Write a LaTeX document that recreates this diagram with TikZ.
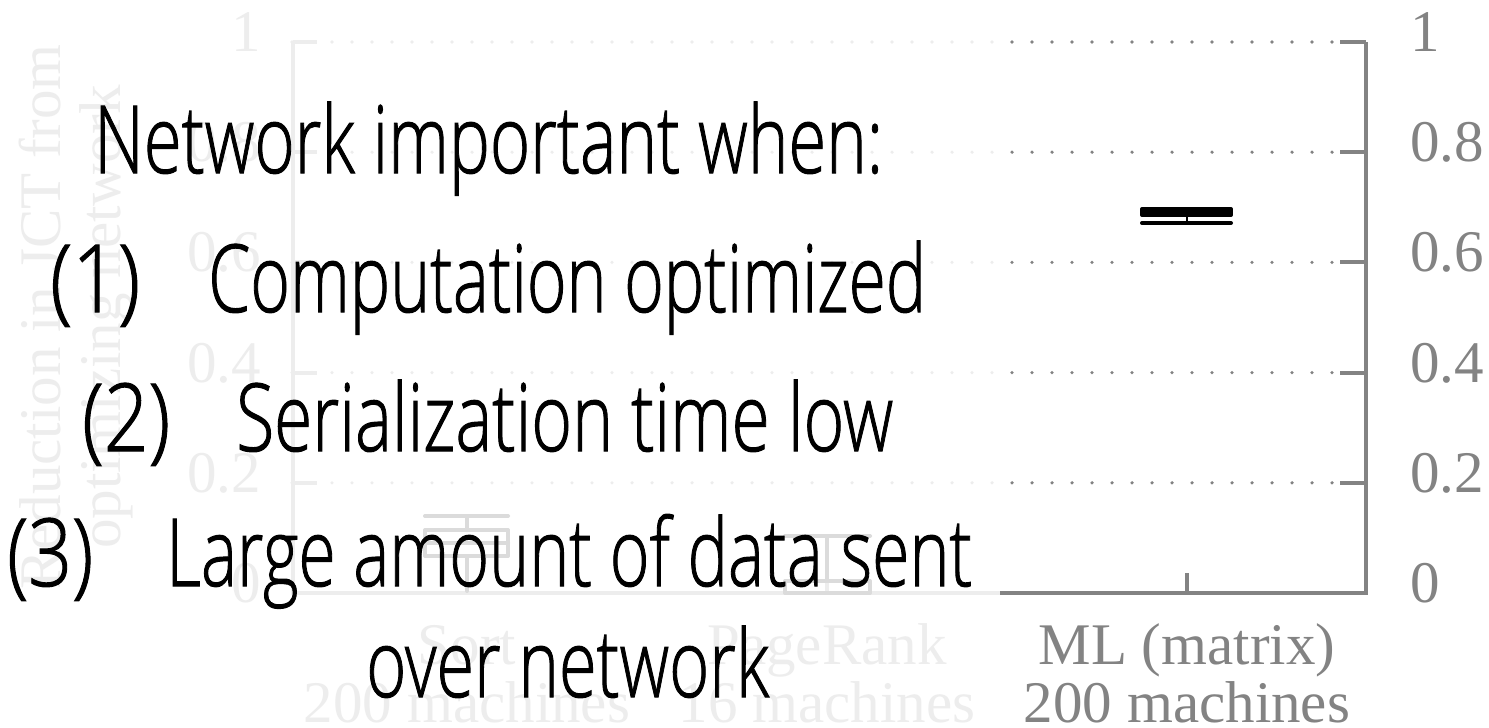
\documentclass[tikz,border=0pt]{standalone}
\usepackage{fontspec}
\usepackage{graphicx}
\setmainfont{Liberation Serif}
\newfontfamily\notefont{Open Sans}[UprightFont={* Light}, FakeBold=1.2]
\definecolor{axisgray}{RGB}{131,131,131}
% stretch a line of text to a given width, keeping its height
\newcommand\fitline[2]{\resizebox{#1}{\height}{#2}}
\tikzset{
  axisline/.style={draw=axisgray, line width=4pt},
  gridline/.style={draw=axisgray, line width=3.6pt, line cap=round, dash pattern=on 0pt off 20pt},
  ticklabel/.style={text=axisgray, font=\fontsize{59}{59}\selectfont, inner sep=0pt},
  boxplot/.style={draw=black, line width=4pt, line cap=round, line join=round},
  note/.style={font=\notefont\fontsize{94}{94}\selectfont, inner sep=0pt, anchor=base west},
}
\begin{document}
\begin{tikzpicture}[x=1pt, y=-1pt]
\useasboundingbox (0,0) rectangle (1489,728);

% grid, ticks and tick labels
\foreach \v/\lab in {0/0, 0.2/0.2, 0.4/0.4, 0.6/0.6, 0.8/0.8, 1/1} {
  \pgfmathsetmacro\yy{593-551*\v}
  \ifdim\v pt>0pt
    \draw[gridline] (292,\yy) -- (1336,\yy);
  \fi
  \draw[axisline] (1340,\yy) -- (1366,\yy);
  \draw[axisline] (293,\yy) -- (317,\yy);
  \node[ticklabel, anchor=base west] at (1410,\yy+9.5) {\lab};
  \node[ticklabel, anchor=base east] at (261,\yy+9.5) {\lab};
}

% axes frame
\draw[axisline] (293,42) -- (293,593) -- (1366,593) -- (1366,42);
\foreach \cx in {467, 827, 1187}
  \draw[axisline] (\cx,593) -- (\cx,573);

% y-axis title
\node[ticklabel, rotate=90, anchor=base] at (60,317) {Reduction in JCT from};
\node[ticklabel, rotate=90, anchor=base] at (120,317) {optimizing network};

% category labels
\node[ticklabel, anchor=base] at (467,664) {Sort};
\node[ticklabel, anchor=base] at (467,722) {200 machines};
\node[ticklabel, anchor=base] at (827,664) {PageRank};
\node[ticklabel, anchor=base] at (827,722) {16 machines};
\node[ticklabel, anchor=base] at (1187,664) {ML (matrix)};
\node[ticklabel, anchor=base] at (1187,722) {200 machines};

% box plots
% Sort
\draw[boxplot] (425,516) -- (508,516);
\draw[boxplot] (467,516) -- (467,530);
\draw[boxplot] (425,530) rectangle (508,556);
\draw[boxplot] (425,543) -- (508,543);
\draw[boxplot] (467,556) -- (467,591);
% PageRank
\draw[boxplot] (785,536) -- (870,536);
\draw[boxplot] (827,536) -- (827,581);
\draw[boxplot] (785,581) rectangle (870,593);
% ML (matrix)
\draw[boxplot, fill=black] (1142,209) rectangle (1231,215);
\draw[boxplot, line width=2.5pt] (1187,215) -- (1187,223);
\draw[boxplot] (1142,223) -- (1231,223);

% white veil over the left part of the chart
\fill[white, opacity=0.86] (0,0) rectangle (1000,728);

% callout text
\node[note] at (94,173) {\fitline{789pt}{Network important when:}};
\node[note] at (50,312) {\fitline{90pt}{(1)}};
\node[note] at (208,312) {\fitline{718pt}{Computation optimized}};
\node[note] at (82,451) {\fitline{88pt}{(2)}};
\node[note] at (236,451) {\fitline{657pt}{Serialization time low}};
\node[note] at (7,586) {\fitline{86pt}{(3)}};
\node[note] at (166,586) {\fitline{806pt}{Large amount of data sent}};
\node[note] at (366,697) {\fitline{403pt}{over network}};
\end{tikzpicture}
\end{document}
